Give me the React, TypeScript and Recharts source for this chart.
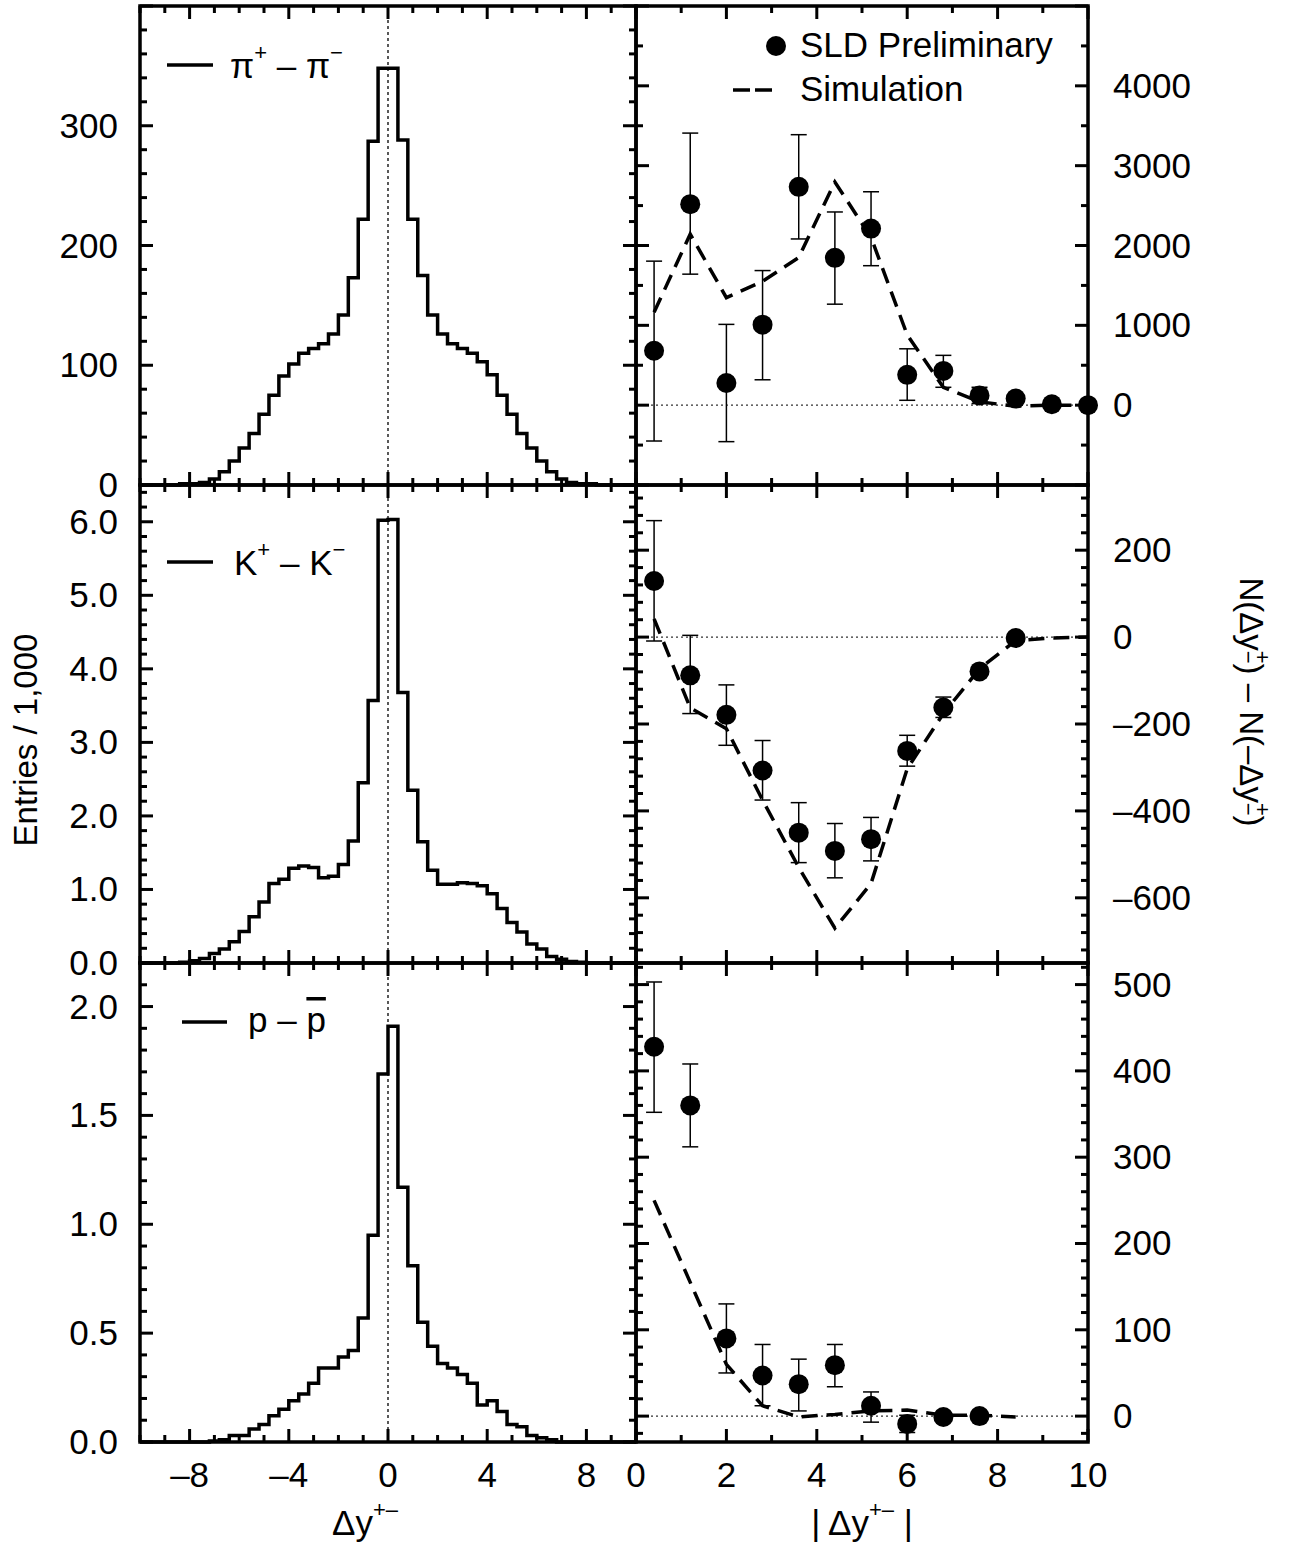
import React from "react";
import {
  ComposedChart,
  Line,
  Scatter,
  ErrorBar,
  XAxis,
  YAxis,
  ReferenceLine,
  ReferenceArea,
} from "recharts";

const FONT = '"Liberation Sans", Arial, Helvetica, sans-serif';

// histogram bin edges, 0.4 wide, for the left column
const BIN_EDGES = [
  -10, -9.6, -9.2, -8.8, -8.4, -8, -7.6, -7.2, -6.8, -6.4, -6, -5.6, -5.2, -4.8, -4.4, -4, -3.6,
  -3.2, -2.8, -2.4, -2, -1.6, -1.2, -0.8, -0.4, 0, 0.4, 0.8, 1.2, 1.6, 2, 2.4, 2.8, 3.2, 3.6, 4,
  4.4, 4.8, 5.2, 5.6, 6, 6.4, 6.8, 7.2, 7.6, 8, 8.4, 8.8, 9.2, 9.6, 10,
];

// entries per bin (pi in units, K and p in thousands)
const PION_HIST = [
  0, 0, 0, 0, 1, 1, 2, 5, 11, 20, 31, 43, 59, 75, 91, 101, 110, 114, 118, 126, 142, 173, 222, 287,
  348, 348, 288, 222, 175, 142, 126, 118, 114, 110, 103, 92, 75, 59, 43, 31, 20, 11, 5, 2, 1, 1, 0,
  0, 0, 0,
];
const KAON_HIST = [
  0, 0, 0, 0, 0.01, 0.03, 0.06, 0.13, 0.19, 0.29, 0.43, 0.63, 0.83, 1.08, 1.14, 1.29, 1.32, 1.3,
  1.16, 1.18, 1.34, 1.66, 2.45, 3.57, 6.02, 6.03, 3.68, 2.35, 1.65, 1.26, 1.07, 1.07, 1.09, 1.08,
  1.05, 0.94, 0.74, 0.55, 0.42, 0.26, 0.19, 0.09, 0.05, 0.02, 0.01, 0, 0, 0, 0, 0,
];
const PROTON_HIST = [
  0, 0, 0, 0, 0, 0, 0, 0.005, 0.01, 0.03, 0.03, 0.06, 0.08, 0.12, 0.15, 0.19, 0.22, 0.27, 0.34,
  0.34, 0.39, 0.42, 0.57, 0.95, 1.69, 1.91, 1.17, 0.81, 0.55, 0.44, 0.36, 0.34, 0.31, 0.27, 0.17,
  0.19, 0.14, 0.08, 0.07, 0.03, 0.02, 0.01, 0, 0, 0, 0, 0, 0, 0, 0,
];

// right column: |dy| bin centres
const ABS_DY = [0.4, 1.2, 2.0, 2.8, 3.6, 4.4, 5.2, 6.0, 6.8, 7.6, 8.4, 9.2, 10.0];

const PION_DIFF = [682, 2518, 278, 1008, 2735, 1845, 2212, 380, 429, 122, 82, 12, 0];
const PION_DIFF_LO = [-449, 1641, -457, 318, 2082, 1265, 1747, 61, 224, 20, 42, 0, 0];
const PION_DIFF_HI = [1804, 3408, 1012, 1686, 3388, 2420, 2673, 706, 624, 224, 122, 24, 0];
const PION_SIM = [1163, 2143, 1347, 1551, 1850, 2796, 2102, 880, 224, 41, -12, 0, 0];

const KAON_DIFF = [129, -88, -179, -307, -450, -492, -465, -262, -162, -79, -2];
const KAON_DIFF_LO = [-9, -176, -249, -375, -519, -554, -515, -297, -185, -87, -2];
const KAON_DIFF_HI = [268, 4, -110, -238, -381, -429, -415, -226, -138, -71, -2];
const KAON_SIM = [42, -163, -211, -375, -530, -670, -567, -303, -176, -73, -8, -2, 0];

const PROTON_DIFF = [428, 360, 90, 47, 37, 59, 12, -9, -1, 0];
const PROTON_DIFF_LO = [352, 312, 50, 12, 6, 34, -7, -19, -1, 0];
const PROTON_DIFF_HI = [503, 408, 130, 83, 66, 83, 28, 1, -1, 0];
const PROTON_SIM = [250, 155, 60, 12, -1, 2, 6, 7, 1, 1, -1];

// tick labels
const DY_LABELS = [-8, -4, 0, 4, 8];
const ABS_DY_LABELS = [0, 2, 4, 6, 8, 10];
const PION_Y_LABELS = [0, 100, 200, 300];
const KAON_Y_LABELS = [0, 1, 2, 3, 4, 5, 6];
const PROTON_Y_LABELS = [0, 0.5, 1, 1.5, 2];
const PION_DIFF_LABELS = [0, 1000, 2000, 3000, 4000];
const KAON_DIFF_LABELS = [-600, -400, -200, 0, 200];
const PROTON_DIFF_LABELS = [0, 100, 200, 300, 400, 500];

// plot frame edges on the page
const COL_X = [140, 636, 1088];
const ROW_Y = [6, 485, 963, 1442];

type AxisSpec = {
  domain: [number, number];
  minor: number;
  major: number;
  labels: number[];
  fmt: (v: number) => string;
};

const dash = (v: number) => (v < 0 ? "\u2013" + Math.abs(v) : String(v));
const fixed1 = (v: number) => v.toFixed(1);

function ticksFor(domain: [number, number], step: number) {
  const out: number[] = [];
  const start = Math.ceil(domain[0] / step - 1e-9) * step;
  for (let v = start; v <= domain[1] + 1e-9; v += step) out.push(Math.round(v * 1e6) / 1e6);
  return out;
}
const isMult = (v: number, step: number) => Math.abs(v / step - Math.round(v / step)) < 1e-6;

const histData = (vals: number[]) =>
  BIN_EDGES.map((x, i) => ({ x, v: vals[Math.min(i, vals.length - 1)] }));

// error stored as [below, above] so ErrorBar can read it from the point directly
const pointData = (ys: number[], lo: number[], hi: number[]) =>
  ys.map((y, i) => ({ x: ABS_DY[i], y, err: [y - lo[i], hi[i] - y] }));

const lineData = (ys: number[]) => ys.map((y, i) => ({ x: ABS_DY[i], y }));

const Dot = (p: any) => <circle cx={p.cx} cy={p.cy} r={10} fill="#000" />;

interface PanelProps {
  col: 0 | 1;
  row: 0 | 1 | 2;
  x: AxisSpec;
  y: AxisSpec;
  children: React.ReactNode;
}

function Panel({ col, row, x, y, children }: PanelProps) {
  const x0 = COL_X[col];
  const x1 = COL_X[col + 1];
  const y0 = ROW_Y[row];
  const y1 = ROW_Y[row + 1];
  const side = col === 0 ? "left" : "right";
  const mL = col === 0 ? x0 : 12;
  const mR = col === 0 ? 12 : 150;
  const mT = 30;
  const mB = row === 2 ? 70 : 30;
  const w = x1 - x0 + mL + mR;
  const h = y1 - y0 + mT + mB;
  const plot = { l: mL, r: mL + (x1 - x0), t: mT, b: mT + (y1 - y0) };

  const xTick = (p: any) => {
    const v = p.payload.value;
    const px = p.payload.coordinate ?? p.x;
    const major = isMult(v, x.major);
    const len = major ? 13 : 7;
    const show = row === 2 && x.labels.some((l) => Math.abs(l - v) < 1e-6);
    return (
      <g>
        <line x1={px} x2={px} y1={plot.b} y2={plot.b - len} stroke="#000" strokeWidth={3} />
        <line x1={px} x2={px} y1={plot.t} y2={plot.t + len} stroke="#000" strokeWidth={3} />
        {show && (
          <text x={px} y={plot.b + 45} textAnchor="middle" fontSize={35} fontFamily={FONT} fill="#000">
            {x.fmt(v)}
          </text>
        )}
      </g>
    );
  };

  const yTick = (p: any) => {
    const v = p.payload.value;
    const py = p.payload.coordinate ?? p.y;
    const major = isMult(v, y.major);
    const len = major ? 13 : 7;
    const show = y.labels.some((l) => Math.abs(l - v) < 1e-6);
    return (
      <g>
        <line x1={plot.l} x2={plot.l + len} y1={py} y2={py} stroke="#000" strokeWidth={3} />
        <line x1={plot.r} x2={plot.r - len} y1={py} y2={py} stroke="#000" strokeWidth={3} />
        {show && (
          <text
            x={side === "left" ? plot.l - 22 : plot.r + 25}
            y={py + 12}
            textAnchor={side === "left" ? "end" : "start"}
            fontSize={35}
            fontFamily={FONT}
            fill="#000"
          >
            {y.fmt(v)}
          </text>
        )}
      </g>
    );
  };

  // axes take the margin space themselves (a zero-sized axis is not drawn)
  const margin =
    side === "left"
      ? { top: mT, right: mR, bottom: 0, left: 0 }
      : { top: mT, right: 0, bottom: 0, left: mL };

  return (
    <div style={{ position: "absolute", left: x0 - mL, top: y0 - mT, width: w, height: h }}>
      <ComposedChart width={w} height={h} margin={margin}>
        <XAxis
          type="number"
          dataKey="x"
          domain={x.domain}
          ticks={ticksFor(x.domain, x.minor)}
          interval={0}
          height={mB}
          axisLine={false}
          tickLine={false}
          tick={xTick}
        />
        <YAxis
          type="number"
          orientation={side}
          domain={y.domain}
          ticks={ticksFor(y.domain, y.minor)}
          interval={0}
          width={side === "left" ? mL : mR}
          axisLine={false}
          tickLine={false}
          tick={yTick}
        />
        {col === 0 ? (
          <ReferenceLine x={0} stroke="#000" strokeWidth={1.3} strokeDasharray="3 3" ifOverflow="visible" />
        ) : (
          <ReferenceLine y={0} stroke="#333" strokeWidth={1.3} strokeDasharray="2 3" ifOverflow="visible" />
        )}
        {children}
        <ReferenceArea
          x1={x.domain[0]}
          x2={x.domain[1]}
          y1={y.domain[0]}
          y2={y.domain[1]}
          fill="none"
          stroke="#000"
          strokeWidth={3.5}
          ifOverflow="visible"
        />
      </ComposedChart>
    </div>
  );
}

const DY_AXIS: AxisSpec = { domain: [-10, 10], minor: 1, major: 4, labels: DY_LABELS, fmt: dash };
const ABS_AXIS: AxisSpec = { domain: [0, 10], minor: 1, major: 2, labels: ABS_DY_LABELS, fmt: dash };

const histLine = (vals: number[]) => (
  <Line
    data={histData(vals)}
    dataKey="v"
    type="stepAfter"
    stroke="#000"
    strokeWidth={3.5}
    dot={false}
    isAnimationActive={false}
  />
);

const diffSeries = (ys: number[], lo: number[], hi: number[], sim: number[]) => [
  <Line
    key="sim"
    data={lineData(sim)}
    dataKey="y"
    type="linear"
    stroke="#000"
    strokeWidth={3.5}
    strokeDasharray="16 9"
    dot={false}
    isAnimationActive={false}
  />,
  <Scatter key="pts" data={pointData(ys, lo, hi)} dataKey="y" shape={Dot} isAnimationActive={false}>
    <ErrorBar dataKey="err" direction="y" width={8} stroke="#000" strokeWidth={1.5} isAnimationActive={false} />
  </Scatter>,
];

const sup = { fontSize: 22 };

export default function App() {
  return (
    <div style={{ position: "absolute", left: 0, top: 0, width: 1289, height: 1547, background: "#fff" }}>
      <Panel col={0} row={0} x={DY_AXIS} y={{ domain: [0, 400], minor: 20, major: 100, labels: PION_Y_LABELS, fmt: String }}>
        {histLine(PION_HIST)}
      </Panel>
      <Panel col={0} row={1} x={DY_AXIS} y={{ domain: [0, 6.5], minor: 0.2, major: 1, labels: KAON_Y_LABELS, fmt: fixed1 }}>
        {histLine(KAON_HIST)}
      </Panel>
      <Panel col={0} row={2} x={DY_AXIS} y={{ domain: [0, 2.2], minor: 0.1, major: 0.5, labels: PROTON_Y_LABELS, fmt: fixed1 }}>
        {histLine(PROTON_HIST)}
      </Panel>
      <Panel col={1} row={0} x={ABS_AXIS} y={{ domain: [-1000, 5000], minor: 500, major: 1000, labels: PION_DIFF_LABELS, fmt: dash }}>
        {diffSeries(PION_DIFF, PION_DIFF_LO, PION_DIFF_HI, PION_SIM)}
      </Panel>
      <Panel col={1} row={1} x={ABS_AXIS} y={{ domain: [-750, 350], minor: 40, major: 200, labels: KAON_DIFF_LABELS, fmt: dash }}>
        {diffSeries(KAON_DIFF, KAON_DIFF_LO, KAON_DIFF_HI, KAON_SIM)}
      </Panel>
      <Panel col={1} row={2} x={ABS_AXIS} y={{ domain: [-30, 525], minor: 20, major: 100, labels: PROTON_DIFF_LABELS, fmt: dash }}>
        {diffSeries(PROTON_DIFF, PROTON_DIFF_LO, PROTON_DIFF_HI, PROTON_SIM)}
      </Panel>

      {/* legends and axis titles */}
      <svg
        width={1289}
        height={1547}
        style={{ position: "absolute", left: 0, top: 0, pointerEvents: "none" }}
        fontFamily={FONT}
        fill="#000"
      >
        <line x1={167} x2={213} y1={65} y2={65} stroke="#000" strokeWidth={3.5} />
        <text x={230} y={78} fontSize={35}>
          π<tspan {...sup} dy={-18}>+</tspan>
          <tspan dy={18}> – π</tspan>
          <tspan {...sup} dy={-18}>−</tspan>
        </text>

        <line x1={167} x2={213} y1={562} y2={562} stroke="#000" strokeWidth={3.5} />
        <text x={234} y={575} fontSize={35}>
          K<tspan {...sup} dy={-18}>+</tspan>
          <tspan dy={18}> – K</tspan>
          <tspan {...sup} dy={-18}>−</tspan>
        </text>

        <line x1={182} x2={227} y1={1022} y2={1022} stroke="#000" strokeWidth={3.5} />
        <text x={248} y={1032} fontSize={35}>
          p – <tspan style={{ textDecoration: "overline" }}>p</tspan>
        </text>

        <circle cx={776} cy={46} r={10} fill="#000" />
        <text x={800} y={57} fontSize={35}>
          SLD Preliminary
        </text>
        <line x1={733} x2={772} y1={90} y2={90} stroke="#000" strokeWidth={3.5} strokeDasharray="17 5" />
        <text x={800} y={101} fontSize={35}>
          Simulation
        </text>

        <text x={37} y={740} fontSize={33} textAnchor="middle" transform="rotate(-90 37 740)">
          Entries / 1,000
        </text>

        <text x={1240} y={702} fontSize={33} textAnchor="middle" transform="rotate(90 1240 702)">
          N(Δy<tspan {...sup} dy={-15}>+</tspan>
          <tspan {...sup} dx={-13} dy={14}>−</tspan>
          <tspan dy={1}>)  –  N(–Δy</tspan>
          <tspan {...sup} dy={-15}>+</tspan>
          <tspan {...sup} dx={-13} dy={14}>−</tspan>
          <tspan dy={1}>)</tspan>
        </text>

        <text x={365} y={1535} fontSize={35} textAnchor="middle">
          Δy<tspan {...sup} dy={-18}>+–</tspan>
        </text>
        <text x={862} y={1535} fontSize={35} textAnchor="middle">
          | Δy<tspan {...sup} dy={-18}>+–</tspan>
          <tspan dy={18}> |</tspan>
        </text>
      </svg>
    </div>
  );
}
